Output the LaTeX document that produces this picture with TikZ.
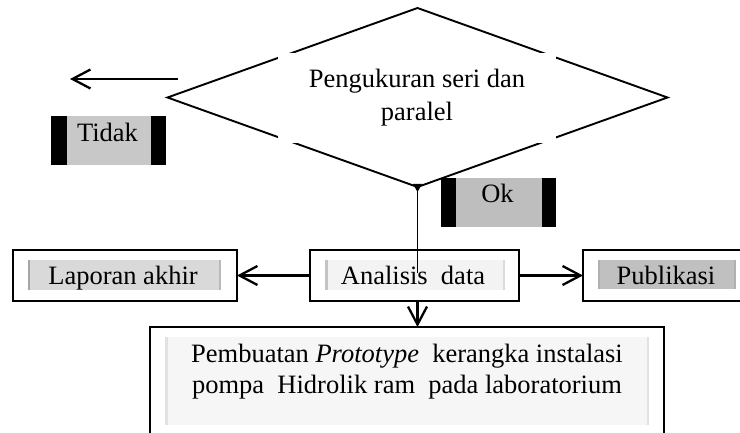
\documentclass[tikz,border=0pt]{standalone}
\usepackage{fontspec}
\setmainfont{Liberation Serif}
\usetikzlibrary{shapes.geometric,arrows.meta}
\definecolor{tidakgray}{HTML}{C8C8C8}
\definecolor{okgray}{HTML}{BEBEBE}
\definecolor{lapfill}{HTML}{D9D9D9}
\definecolor{lapbar}{HTML}{A6A6A6}
\definecolor{anafill}{HTML}{F3F3F3}
\definecolor{anabar}{HTML}{C4C4C4}
\definecolor{pubfill}{HTML}{C0C0C0}
\definecolor{pubbar}{HTML}{B0B0B0}
\definecolor{pemfill}{HTML}{F6F6F6}
\definecolor{pembar}{HTML}{E2E2E2}
\begin{document}
\begin{tikzpicture}[x=1pt,y=-1pt,
  txt/.style={font=\fontsize{26.5}{33}\selectfont, inner sep=0pt, outer sep=0pt, anchor=base},
  box/.style={draw, line width=1.8pt, fill=white, inner sep=0pt, outer sep=0pt},
  plain/.style={inner sep=0pt, outer sep=0pt},
  conn/.style={line width=1.8pt},
  arr/.style={line width=2.3pt, -{Straight Barb[length=18pt,width=19pt]}}]
\useasboundingbox (0,0) rectangle (740,433);
\clip (0,0) rectangle (740,433);
\fill[white] (0,0) rectangle (740,433);

% decision
\node[diamond, draw, line width=1.9pt, plain, minimum width=500pt, minimum height=179pt] (dec) at (417.5,97.5) {};
\node[plain, fill=white, minimum width=278pt, minimum height=90pt, align=center,
      font=\fontsize{26.5}{33}\selectfont] (dect) at (417,98) {Pengukuran seri dan\\paralel};

% Tidak label
\node[plain, fill=black, minimum width=115pt, minimum height=49pt] (tidak) at (108.5,140.5) {};
\node[plain, fill=tidakgray, minimum width=84pt, minimum height=49pt] (tidakin) at (109,140.5) {};
\node[txt] (tidakt) at (107.5,142) {Tidak};

% Ok label
\node[plain, fill=black, minimum width=115pt, minimum height=49pt] (ok) at (498.5,202.5) {};
\node[plain, fill=okgray, minimum width=86pt, minimum height=49pt] (okin) at (499,202.5) {};
\node[txt] (okt) at (497.5,203) {Ok};

% Laporan akhir
\node[box, minimum width=224pt, minimum height=51pt] (lap) at (125,275.5) {};
\node[plain, fill=lapfill, minimum width=193pt, minimum height=30pt] (lapin) at (124.5,275) {};
\fill[lapbar] (28,260) rectangle (30,290);
\fill[lapfill!85!black] (219,260) rectangle (221,290);
\node[txt] (lapt) at (123,285) {Laporan akhir};

% Analisis data
\node[box, minimum width=209pt, minimum height=51pt] (ana) at (414.5,275.5) {};
\node[plain, fill=anafill, minimum width=180pt, minimum height=30pt] (anain) at (415,275) {};
\fill[anabar] (325,260) rectangle (327.5,290);
\fill[anafill!90!black] (503,260) rectangle (505,290);
\node[txt] (anat) at (413,285) {Analisis\ \ data};

% Publikasi
\node[box, minimum width=217pt, minimum height=51pt] (pub) at (691.5,275.5) {};
\node[plain, fill=pubfill, minimum width=138pt, minimum height=29pt] (pubin) at (667,274.5) {};
\fill[pubbar] (598,260) rectangle (600,289);
\fill[pubbar] (734,260) rectangle (736,289);
\node[txt] (pubt) at (666,285) {Publikasi};

% Pembuatan prototype
\node[box, minimum width=514pt, minimum height=133pt] (pem) at (407,393.5) {};
\node[plain, fill=pemfill, minimum width=484pt, minimum height=88pt] (pemin) at (407,381) {};
\fill[pembar] (165,337) rectangle (167.5,425);
\fill[pembar] (646.5,337) rectangle (649,425);
\node[plain, align=center, font=\fontsize{26.5}{31}\selectfont] (pemt) at (407,371.4)
  {Pembuatan \textit{Prototype}\ \ kerangka instalasi\\pompa\ \ Hidrolik ram\ \ pada laboratorium};

% connectors
\coordinate (la1) at (178,79);
\coordinate (la2) at (70,79);
\draw[arr] (la1) -- (la2);
\draw[arr] (ana.west) -- (lap.east);
\draw[arr] (ana.east) -- (pub.west);
\coordinate (vend) at (420,273);
\draw[conn] (dec.south) -- (dec.south |- vend);
\fill (dec.south) ++(-4.5,-3) -- ++(9,0) -- ++(-4.5,8) -- cycle;
\draw[arr] (ana.south -| dec.south) -- (pem.north -| dec.south);
\end{tikzpicture}
\end{document}
